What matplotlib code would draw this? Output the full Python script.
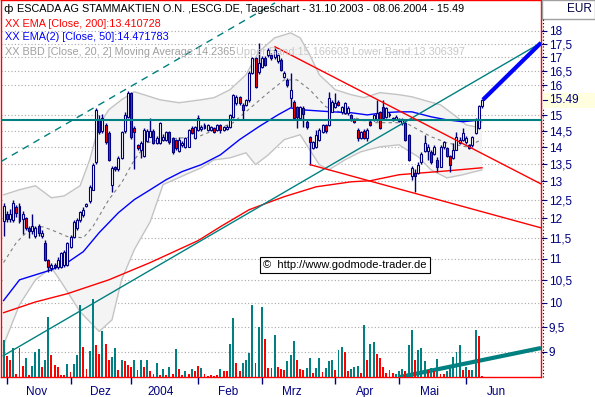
import numpy as np
import pandas as pd
import matplotlib
matplotlib.use("Agg")
import matplotlib.pyplot as plt
from matplotlib.lines import Line2D
from matplotlib.patches import Rectangle
from matplotlib.ticker import FixedLocator, NullLocator
from matplotlib.transforms import blended_transform_factory

# trading days (Xetra holidays removed)
holidays = ["2003-12-24", "2003-12-25", "2003-12-26", "2003-12-31",
            "2004-01-01", "2004-04-09", "2004-04-12"]
days = pd.bdate_range("2003-10-31", "2004-06-08")
days = days[~days.isin(pd.to_datetime(holidays))]

opens = [11.93, 12.12, 11.98, 11.96, 12.30, 12.33, 11.98, 12.00, 11.75, 11.68,
         11.55, 11.80, 11.55, 11.38, 10.98, 10.78, 10.85, 10.80, 10.81, 10.86,
         10.86, 11.29, 11.53, 11.75, 11.96, 12.09, 12.33, 12.45, 12.77, 13.57,
         14.85, 14.50, 14.69, 14.44, 12.91, 13.42, 13.34, 13.69, 14.50, 14.95,
         15.74, 14.60, 14.07, 13.92, 13.72, 14.20, 14.32, 14.50, 14.14, 14.14,
         14.23, 14.23, 14.47, 14.29, 14.23, 13.87, 14.07, 14.01, 14.01, 14.60,
         14.29, 14.54, 14.56, 14.60, 14.54, 14.54, 14.60, 14.54, 14.69, 14.54,
         14.56, 14.63, 14.95, 15.41, 15.61, 15.34, 15.34, 15.51, 16.44, 16.98,
         16.47, 16.65, 16.98, 17.09, 17.09, 17.00, 16.87, 16.91, 16.30, 16.19,
         15.58, 15.44, 15.27, 14.92, 15.24, 14.79, 14.32, 13.98, 14.01, 14.23,
         14.47, 14.69, 14.69, 15.11, 15.27, 15.44, 15.11, 15.08, 15.08, 15.01,
         14.88, 14.54, 14.29, 14.50, 14.29, 14.79, 14.85, 14.85, 15.11, 15.27,
         14.95, 15.01, 14.85, 14.88, 14.82, 14.76, 14.76, 14.38, 13.14, 13.25,
         13.25, 13.57, 13.87, 13.87, 13.84, 13.78, 13.63, 13.42, 14.01, 13.98,
         13.72, 13.69, 13.92, 14.14, 14.23, 14.17, 14.07, 14.07, 14.44, 14.60,
         15.30]
highs = [12.40, 12.20, 12.25, 12.50, 12.35, 12.40, 12.20, 12.05, 11.80, 12.12,
         11.80, 11.85, 11.70, 11.45, 11.00, 10.90, 10.90, 11.05, 11.17, 11.20,
         11.40, 11.58, 11.95, 12.00, 12.20, 12.30, 12.42, 12.90, 13.52, 15.24,
         15.00, 15.05, 14.75, 14.50, 13.45, 13.45, 13.72, 14.50, 15.10, 15.80,
         15.78, 14.65, 14.10, 14.20, 14.60, 14.55, 14.90, 14.55, 14.35, 14.79,
         14.40, 14.50, 14.50, 14.32, 14.25, 14.30, 14.20, 14.32, 14.57, 14.65,
         14.66, 15.01, 14.70, 14.75, 14.72, 14.66, 14.63, 14.72, 14.72, 14.66,
         14.68, 15.05, 15.72, 15.68, 15.65, 15.40, 15.55, 16.50, 17.02, 17.02,
         17.54, 17.05, 17.03, 17.35, 17.15, 17.35, 17.15, 16.98, 16.50, 16.25,
         16.44, 15.50, 15.30, 15.30, 15.30, 14.85, 14.35, 14.20, 14.54, 14.60,
         14.72, 14.72, 15.78, 15.50, 15.74, 15.50, 15.30, 15.44, 15.30, 15.05,
         14.92, 14.60, 14.50, 14.55, 14.60, 14.85, 15.05, 15.51, 15.15, 15.51,
         15.27, 15.10, 14.95, 15.00, 14.92, 14.90, 14.80, 14.40, 13.45, 13.35,
         13.55, 13.85, 14.38, 14.10, 13.90, 14.07, 13.70, 14.05, 14.20, 14.00,
         13.75, 14.14, 14.47, 14.30, 14.60, 14.35, 14.10, 14.35, 14.90, 15.34,
         15.55]
lows = [11.55, 11.90, 11.90, 11.90, 12.05, 11.88, 11.60, 11.70, 11.50, 11.60,
        11.50, 11.55, 11.50, 10.95, 10.70, 10.72, 10.75, 10.75, 10.78, 10.80,
        10.84, 11.25, 11.50, 11.70, 11.90, 12.05, 12.30, 12.40, 12.75, 13.50,
        14.40, 14.45, 14.10, 13.60, 12.71, 13.30, 13.30, 13.65, 14.45, 14.90,
        14.25, 13.34, 13.90, 13.69, 13.70, 14.15, 14.30, 14.10, 14.10, 14.10,
        14.20, 14.20, 14.10, 13.80, 13.90, 13.85, 14.00, 13.98, 14.00, 14.40,
        14.25, 14.50, 14.50, 14.55, 14.50, 14.50, 14.45, 14.50, 14.45, 14.50,
        14.52, 14.60, 14.90, 15.35, 15.35, 14.85, 15.30, 15.45, 16.40, 15.90,
        16.40, 16.60, 16.70, 17.00, 16.90, 16.95, 16.80, 16.50, 16.25, 15.95,
        15.27, 14.90, 14.60, 14.90, 14.63, 14.55, 13.48, 13.95, 13.98, 14.20,
        14.45, 14.45, 14.65, 15.10, 15.25, 15.30, 15.05, 15.05, 15.00, 14.80,
        14.75, 14.20, 14.25, 14.25, 14.20, 14.65, 14.80, 14.80, 14.55, 14.90,
        14.90, 14.95, 14.80, 14.85, 14.78, 14.70, 14.20, 13.60, 13.05, 12.71,
        13.20, 13.50, 13.85, 13.63, 13.50, 13.75, 13.28, 13.40, 13.95, 13.70,
        13.28, 13.65, 13.90, 14.10, 14.20, 14.10, 13.95, 14.00, 14.40, 14.55,
        15.25]
closes = [12.33, 11.98, 12.12, 12.42, 12.15, 11.93, 12.12, 11.75, 11.68, 11.80,
          11.75, 11.62, 11.62, 10.98, 10.80, 10.85, 10.80, 10.98, 11.14, 11.17,
          11.38, 11.53, 11.91, 11.96, 12.17, 12.23, 12.38, 12.85, 13.48, 15.18,
          14.47, 14.90, 14.17, 13.63, 13.39, 13.34, 13.69, 14.47, 15.01, 15.74,
          14.32, 14.47, 13.98, 14.14, 14.54, 14.50, 14.50, 14.14, 14.29, 14.76,
          14.32, 14.47, 14.17, 13.84, 13.98, 14.23, 14.14, 14.29, 14.54, 14.44,
          14.63, 14.92, 14.63, 14.69, 14.69, 14.63, 14.47, 14.69, 14.54, 14.63,
          14.63, 15.01, 15.68, 15.61, 15.41, 15.18, 15.51, 16.44, 16.98, 15.95,
          16.80, 16.98, 16.73, 17.28, 16.98, 17.28, 17.09, 16.55, 16.44, 16.02,
          15.85, 14.92, 14.95, 15.27, 15.05, 14.63, 14.17, 14.17, 14.38, 14.54,
          14.69, 14.50, 15.58, 15.44, 15.41, 15.34, 15.27, 15.41, 15.24, 14.85,
          14.79, 14.29, 14.47, 14.29, 14.54, 14.69, 15.01, 15.08, 14.60, 14.92,
          15.24, 15.05, 14.92, 14.95, 14.88, 14.85, 14.23, 13.63, 13.39, 13.14,
          13.48, 13.78, 14.14, 14.00, 13.57, 14.01, 13.42, 14.01, 14.17, 13.72,
          13.48, 13.92, 14.32, 14.23, 14.44, 14.29, 13.98, 14.32, 14.85, 15.30,
          15.49]

# volume in 1000 shares, and whether the bar is an up-day (teal) bar
volumes = [148, 84, 68, 116, 12, 116, 44, 76, 8, 44,
           100, 112, 40, 68, 240, 88, 48, 40, 10, 8,
           52, 20, 52, 88, 288, 120, 32, 104, 312, 128,
           92, 184, 132, 68, 80, 116, 28, 68, 64, 48,
           40, 68, 28, 68, 40, 68, 24, 14, 56, 10,
           32, 10, 40, 12, 112, 32, 10, 24, 12, 32,
           24, 44, 36, 14, 6, 8, 6, 8, 32, 24,
           24, 132, 236, 56, 24, 56, 68, 96, 288, 56,
           200, 280, 152, 36, 36, 168, 40, 32, 28, 64,
           88, 144, 68, 32, 28, 36, 76, 16, 36, 76,
           20, 36, 64, 68, 28, 108, 120, 100, 24, 32,
           40, 44, 16, 208, 68, 132, 140, 92, 76, 40,
           16, 28, 16, 14, 24, 32, 24, 128, 188, 68,
           108, 116, 64, 28, 36, 24, 72, 14, 12, 24,
           40, 80, 100, 128, 28, 40, 28, 28, 188, 164,
           4]
vol_up = [1, 0, 0, 1, 0, 1, 0, 1, 0, 1,
          1, 1, 0, 1, 1, 0, 0, 0, 0, 0,
          1, 0, 1, 1, 1, 0, 0, 1, 1, 0,
          0, 1, 0, 0, 1, 1, 0, 1, 0, 0,
          0, 1, 0, 1, 0, 1, 0, 0, 1, 0,
          1, 0, 1, 0, 1, 0, 0, 1, 0, 1,
          0, 0, 1, 0, 0, 0, 0, 0, 1, 0,
          0, 1, 1, 0, 0, 1, 1, 1, 1, 0,
          1, 1, 0, 0, 0, 1, 0, 0, 0, 1,
          1, 1, 0, 0, 0, 1, 1, 0, 1, 1,
          0, 1, 1, 1, 0, 1, 1, 0, 0, 1,
          1, 1, 0, 1, 0, 1, 1, 0, 0, 0,
          0, 1, 0, 1, 1, 1, 0, 1, 1, 0,
          1, 1, 1, 0, 1, 0, 1, 0, 0, 1,
          1, 1, 1, 1, 0, 1, 0, 1, 1, 0,
          0]

# indicators read at sample days (trading-day index, price)
bb_up_day = [0, 5, 10, 15, 19, 24, 27, 30, 33, 37, 41, 44, 49, 55, 62, 66, 71, 76, 80,
             85, 90, 93, 96, 99, 104, 109, 113, 118, 124, 128, 137, 142, 145, 148, 150]
bb_up = [12.63, 12.77, 12.88, 12.55, 12.60, 12.88, 13.62, 14.69, 15.18, 15.51, 15.78,
         15.68, 15.51, 15.41, 15.51, 15.58, 15.85, 16.37, 17.20, 17.73, 17.92, 17.73,
         17.09, 16.37, 15.85, 15.68, 15.58, 15.75, 15.68, 15.61, 15.34, 14.95, 14.69,
         14.63, 14.79]
bb_lo_day = [0, 5, 10, 15, 18, 24, 30, 34, 37, 41, 46, 50, 57, 62, 66, 71, 76, 79, 83,
             88, 93, 96, 99, 102, 107, 112, 118, 124, 130, 134, 139, 144, 150]
bb_lo = [9.13, 9.96, 10.51, 10.79, 10.47, 9.81, 9.40, 9.64, 10.51, 11.22, 11.92, 12.91,
         13.19, 13.39, 13.62, 13.68, 13.83, 13.48, 13.77, 14.23, 14.38, 13.92, 13.48,
         13.33, 13.62, 13.86, 14.01, 14.07, 13.71, 13.33, 13.10, 13.19, 13.33]
bb_mid_day = [0, 4, 8, 12, 15, 20, 25, 28, 33, 37, 41, 45, 49, 61, 72, 83, 88, 92, 96,
              101, 106, 112, 116, 126, 134, 139, 145, 150]
bb_mid = [10.91, 11.39, 11.71, 11.79, 11.71, 11.54, 11.51, 11.79, 12.50, 12.96, 13.62,
          14.13, 14.23, 14.32, 14.76, 15.75, 16.19, 16.19, 15.85, 15.28, 15.08, 14.85,
          14.76, 14.76, 14.32, 14.13, 14.01, 14.23]
ema50_day = [0, 5, 15, 20, 25, 30, 36, 41, 46, 51, 56, 62, 68, 74, 80, 86, 90, 93, 103,
             109, 114, 119, 124, 128, 134, 139, 144, 150]
ema50 = [10.05, 10.51, 10.74, 10.91, 11.17, 11.64, 12.15, 12.50, 12.77, 13.05, 13.28,
         13.48, 13.77, 14.23, 14.63, 15.01, 15.24, 15.18, 15.11, 15.08, 15.01, 15.08,
         15.11, 15.11, 14.95, 14.85, 14.79, 14.85]
ema200_day = [0, 10, 20, 33, 46, 61, 68, 77, 88, 98, 109, 115, 124, 139, 150]
ema200 = [9.79, 10.02, 10.20, 10.51, 10.91, 11.44, 11.79, 12.23, 12.58, 12.85, 12.99,
          13.02, 13.19, 13.30, 13.39]

# drawn trend lines: (day index, price) end points
support = 14.85
up_trend = ([-0.1, 168.5], [8.92, 17.54])
up_channel = ([-0.8, 85.1], [13.57, 19.12])
down_trend = ([85.1, 168.5], [17.39, 12.93])
down_low = ([96.1, 168.5], [13.48, 11.76])
projection = ([150.3, 168.5], [15.51, 17.54])
vol_trend = ([124.3, 168.5], [0, 116])

month_names = ["Nov", "Dez", "2004", "Feb", "Mrz", "Apr", "Mai", "Jun"]
price_ticks = [9, 9.5, 10, 10.5, 11, 11.5, 12, 12.5, 13, 13.5, 14, 14.5, 15,
               16, 16.5, 17, 17.5, 18]
last_price = 15.49

NAVY = "#000080"
TEAL = "#008080"
RED = "#ff0000"
FONT = "Liberation Sans"

fig = plt.figure(figsize=(5.95, 3.97), dpi=100)
fig.patch.set_facecolor("white")
ax = fig.add_axes([1 / 595, 20 / 397, 540 / 595, 377 / 397])
vol = ax.twinx()
ax.set_yscale("log")
ax.set_ylim(8.52, 19.24)
ax.set_xlim(-0.8, 168.5)

x = np.arange(len(days))
o = np.array(opens)
c = np.array(closes)

# Bollinger band
ax.fill(np.r_[bb_up_day, bb_lo_day[::-1]], np.r_[bb_up, bb_lo[::-1]],
        facecolor="#f4f4f4", edgecolor="none", zorder=1)
ax.plot(bb_up_day, bb_up, color="#c4c4c4", lw=1, zorder=1.5)
ax.plot(bb_lo_day, bb_lo, color="#c4c4c4", lw=1, zorder=1.5)
ax.plot(bb_mid_day, bb_mid, color="#808080", lw=0.8, dashes=(3, 3), zorder=2)
ax.plot(ema50_day, ema50, color="#0000ff", lw=1, zorder=2)
ax.plot(ema200_day, ema200, color=RED, lw=1, zorder=2)

# candles
ax.vlines(x, lows, highs, color=NAVY, lw=1, zorder=4)
ax.bar(x, np.abs(c - o), bottom=np.minimum(o, c), width=0.62,
       color=np.where(c >= o, "white", RED), edgecolor=NAVY, linewidth=0.8, zorder=5)

# trend lines
ax.axhline(support, color=TEAL, lw=1.5, zorder=6)
ax.plot(*up_trend, color=TEAL, lw=1, zorder=6)
ax.plot(*up_channel, color=TEAL, lw=1, dashes=(5, 4), zorder=6)
ax.plot(*down_trend, color=RED, lw=1, zorder=6)
ax.plot(*down_low, color=RED, lw=1, zorder=6)
ax.plot(*projection, color="#0000ff", lw=3, solid_capstyle="butt", zorder=6)

# axes styling
for s in ax.spines.values():
    s.set_color(RED)
    s.set_linewidth(1)
ax.yaxis.set_major_locator(FixedLocator(price_ticks))
ax.yaxis.set_minor_locator(NullLocator())
ax.set_yticklabels([f"{t:g}".replace(".", ",") for t in price_ticks],
                   fontfamily=FONT, fontsize=8.5, color=NAVY)
ax.yaxis.tick_right()
ax.tick_params(axis="y", which="major", direction="out", length=4, width=0.8,
               color=NAVY, pad=1.5, left=False, labelleft=False, right=True, labelright=True)
ax.grid(axis="y", color="#a8a8a8", lw=0.8, linestyle=(0, (1, 2)))
ax.set_axisbelow(True)

month_start = np.flatnonzero(days.month != np.roll(days.month, 1))
month_start = month_start[month_start > 0]
ax.set_xticks(month_start)
ax.set_xticklabels([])
ax.set_xticks(month_start + 9.4, minor=True)
ax.set_xticklabels(month_names, minor=True, fontfamily=FONT, fontsize=8.5, color=NAVY)
ax.tick_params(axis="x", which="major", direction="out", length=5, width=1, color=NAVY)
ax.tick_params(axis="x", which="minor", length=0, pad=6.5)

# volume
vol.set_ylim(0, 1508)
vol.bar(x, volumes, width=0.6, color=np.where(np.array(vol_up) == 1, TEAL, RED), zorder=3)
vol.plot(*vol_trend, color=TEAL, lw=3, solid_capstyle="butt")
vol.set_yticks([])
vol.tick_params(left=False, right=False, labelleft=False, labelright=False)
for s in vol.spines.values():
    s.set_visible(False)
vol.set_xlim(-0.8, 168.5)

# last price marker on the right scale
tr = blended_transform_factory(fig.transFigure, ax.transData)
fig.add_artist(Rectangle((543 / 595, 15.25), 52 / 595, 0.49, transform=tr,
                         facecolor="#ffffe0", edgecolor="none", zorder=9))
fig.add_artist(Line2D([543 / 595, 547 / 595], [last_price, last_price], transform=tr,
                      color=NAVY, lw=0.8, zorder=10))
fig.text(549 / 595, last_price, f"{last_price:.2f}", transform=tr, va="center", ha="left",
         fontfamily=FONT, fontsize=8.5, color=NAVY, zorder=10)

# right panel decorations
fig.add_artist(Line2D([543 / 595, 543 / 595], [20 / 397, 378 / 397], color="black",
                      lw=0.8, linestyle=(0, (1, 2))))
fig.add_artist(Rectangle((542 / 595, 378 / 397), 53 / 595, 19 / 397, transform=fig.transFigure,
                         facecolor="white", edgecolor="#a0a0a0", lw=1))
fig.text(592 / 595, 1 - 9 / 397, "EUR", ha="right", va="center",
         fontfamily=FONT, fontsize=8.5, color="#000040")

# legend text
fig.text(3 / 595, 1 - 9 / 397, "ф", ha="left", va="center", fontsize=8, color="black")
fig.text(17 / 595, 1 - 9 / 397,
         "ESCADA AG STAMMAKTIEN O.N. ,ESCG.DE, Tageschart - 31.10.2003 - 08.06.2004 - 15.49",
         ha="left", va="center", fontfamily=FONT, fontsize=7.8, color="black")
fig.text(5 / 595, 1 - 24 / 397, "XX EMA [Close, 200]:13.410728", ha="left", va="center",
         fontfamily=FONT, fontsize=7.8, color=RED)
fig.text(5 / 595, 1 - 37 / 397, "XX EMA(2) [Close, 50]:14.471783", ha="left", va="center",
         fontfamily=FONT, fontsize=7.8, color="#0000ff")
fig.text(5 / 595, 1 - 52 / 397, "XX BBD [Close, 20, 2] Moving Average:14.2365",
         ha="left", va="center", fontfamily=FONT, fontsize=7.8, color="#a0a0a0")
fig.text(236 / 595, 1 - 52 / 397, "Upper Band:15.166603 Lower Band:13.306397",
         ha="left", va="center", fontfamily=FONT, fontsize=7.8, color="#c8c8c8")

fig.text(345 / 595, 1 - 265 / 397, "©  http://www.godmode-trader.de", ha="center", va="center",
         fontfamily=FONT, fontsize=8, color="black",
         bbox=dict(boxstyle="square,pad=0.3", facecolor="white", edgecolor="black", lw=0.8))

fig.savefig("out.png", dpi=100)
